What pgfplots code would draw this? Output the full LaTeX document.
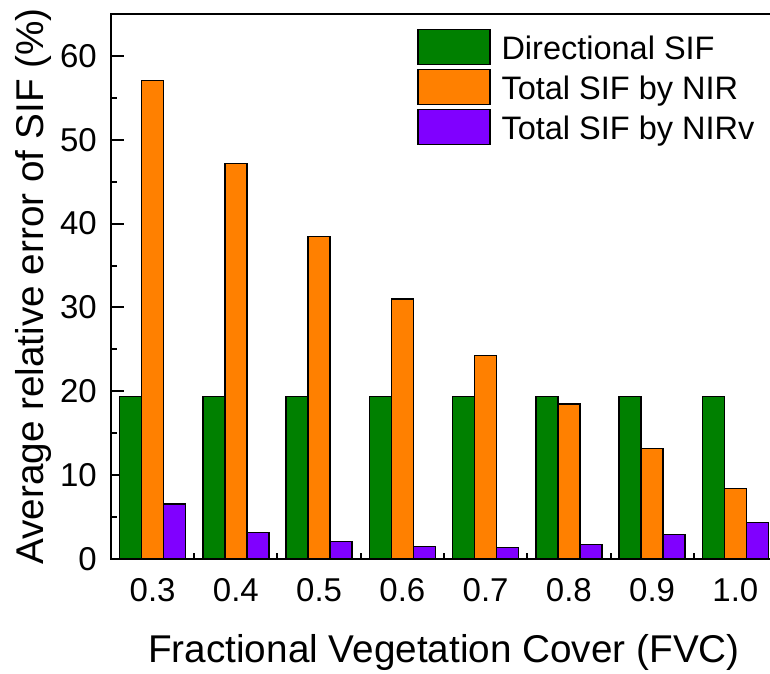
\documentclass[border=0pt]{standalone}
\usepackage{pgfplots}
\pgfplotsset{compat=1.18}
\usepackage{fontspec}
\setmainfont{Liberation Sans}

\definecolor{cGreen}{RGB}{0,128,0}
\definecolor{cOrange}{RGB}{255,128,0}
\definecolor{cPurple}{RGB}{128,0,255}

\begin{document}
\begin{tikzpicture}
% page frame: the axis box starts at (0,0)
\useasboundingbox (-111pt,-114pt) rectangle (659pt,559pt);
\begin{axis}[
  scale only axis,
  width=666pt, height=545pt,
  ybar=0pt, bar width=22pt,
  xmin=-0.5, xmax=7.5,
  ymin=0, ymax=65,
  xtick={0,...,7},
  xticklabels={0.3,0.4,0.5,0.6,0.7,0.8,0.9,1.0},
  minor xtick={0.5,1.5,...,7.5},
  ytick={0,10,...,60},
  minor ytick={5,15,...,65},
  tick align=inside,
  tick pos=left,
  major tick length=13pt,
  minor tick length=6.5pt,
  major x tick style={draw=none},
  every tick/.style={black, line width=2pt},
  axis line style={line width=2pt},
  /pgf/number format/assume math mode=true,
  tick label style={font=\fontsize{33}{36}\selectfont, inner sep=0pt},
  xticklabel shift=19pt,
  yticklabel shift=14pt,
  xlabel={Fractional Vegetation Cover (FVC)},
  ylabel={Average relative error of SIF (\%)},
  label style={font=\fontsize{38.7}{42}\selectfont, inner sep=0pt},
  xlabel style={at={(axis description cs:0.5,-0.1908)}, anchor=base},
  ylabel style={at={(axis description cs:-0.1021,0.5)}, anchor=base},
  legend cell align=left,
  legend style={
    at={(axis description cs:0.4595,0.9725)}, anchor=north west,
    draw=none, fill=none, inner sep=0pt,
    row sep=3.7pt, column sep=11pt,
    nodes={inner sep=0pt, text height=23.7pt, text depth=0pt},
    font=\fontsize{32.5}{36}\selectfont,
  },
  legend image code/.code={\draw[#1, line width=1.3pt] (0pt,-17.5pt) rectangle (72pt,17.5pt);},
  every axis plot/.append style={draw=black, line width=1.3pt},
]
\addplot[fill=cGreen] coordinates {
  (0,19.4) (1,19.4) (2,19.4) (3,19.4) (4,19.4) (5,19.4) (6,19.4) (7,19.4)};
\addplot[fill=cOrange] coordinates {
  (0,57.1) (1,47.2) (2,38.5) (3,31.0) (4,24.3) (5,18.5) (6,13.2) (7,8.4)};
\addplot[fill=cPurple] coordinates {
  (0,6.55) (1,3.2) (2,2.1) (3,1.5) (4,1.35) (5,1.75) (6,2.95) (7,4.35)};
\legend{Directional SIF, Total SIF by NIR, Total SIF by NIRv}
\end{axis}
\end{tikzpicture}
\end{document}
